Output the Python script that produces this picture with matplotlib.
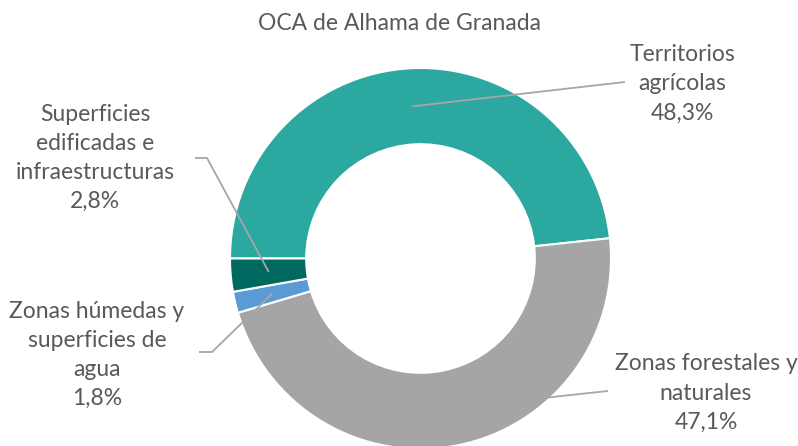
import numpy as np
import matplotlib
matplotlib.use("Agg")
import matplotlib.pyplot as plt

# datos (orden en sentido horario desde la izquierda)
categorias = ["Territorios\nagrícolas", "Zonas forestales y\nnaturales",
              "Zonas húmedas y\nsuperficies de\nagua", "Superficies\nedificadas e\ninfraestructuras"]
porcentajes = [48.3, 47.1, 1.8, 2.8]
colores = ["#2BA8A0", "#A5A5A5", "#5B9BD5", "#00695F"]

titulo = "OCA de Alhama de Granada"

W, H = 798, 446
cx, cy, R = 420.5, 258.5, 190.5   # centro y radio en píxeles
ancho = 0.4

plt.rcParams['font.family'] = ['Lato', 'DejaVu Sans']
txt_color = "#595959"

fig = plt.figure(figsize=(W / 100, H / 100), dpi=100)

ax = fig.add_axes([(cx - R) / W, (H - cy - R) / H, 2 * R / W, 2 * R / H])
wedges, _ = ax.pie(porcentajes, colors=colores, startangle=180, counterclock=False,
                   radius=1, wedgeprops=dict(width=ancho, edgecolor="white", linewidth=1.5))
ax.set_xlim(-1, 1)
ax.set_ylim(-1, 1)
ax.set_aspect("auto")
ax.axis("off")
for w in wedges:
    w.set_clip_on(False)

# capa superior en píxeles para etiquetas y líneas guía
ov = fig.add_axes([0, 0, 1, 1])
ov.set_xlim(0, W)
ov.set_ylim(H, 0)
ov.axis("off")
ov.patch.set_alpha(0)

ov.text(W / 2 + 1, 24, titulo, ha="center", va="center", fontsize=16.5, color=txt_color)

# posición de cada etiqueta (centro del bloque) y codo de la línea guía
etiquetas_pos = [(682, 84), (706, 393), (97, 355), (95, 158)]
codos = [None, None, (212, 352), (207, 158)]
extremos = [(625, 82), (608, 391), (199, 352), (195, 158)]

r_mid = R * (1 - ancho / 2)
for w, cat, p, pos, codo, ext in zip(wedges, categorias, porcentajes, etiquetas_pos, codos, extremos):
    ang = np.deg2rad((w.theta1 + w.theta2) / 2)
    x0 = cx + r_mid * np.cos(ang)
    y0 = cy - r_mid * np.sin(ang)
    xs = [x0] + ([codo[0]] if codo else []) + [ext[0]]
    ys = [y0] + ([codo[1]] if codo else []) + [ext[1]]
    ov.plot(xs, ys, color="#A6A6A6", lw=1.3, solid_capstyle="butt")
    etiqueta = cat + "\n" + f"{p:.1f}%".replace(".", ",")
    ov.text(pos[0], pos[1], etiqueta, ha="center", va="center", fontsize=16.5,
            color=txt_color, linespacing=1.48, multialignment="center")

fig.savefig("out.png", dpi=100)
